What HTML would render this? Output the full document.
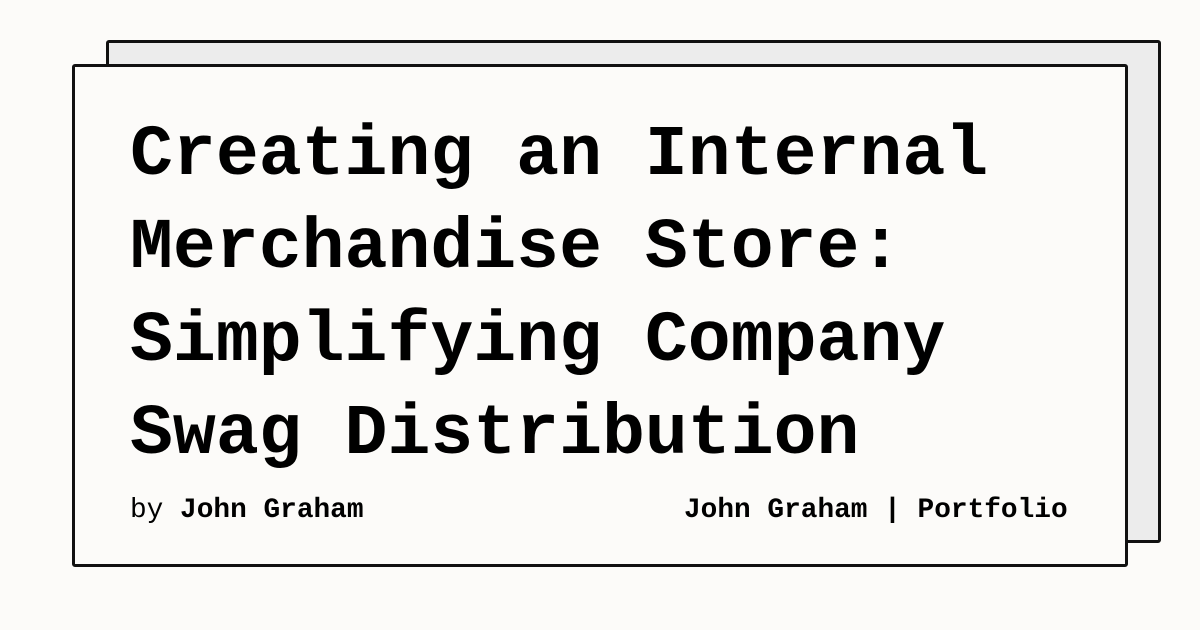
<!DOCTYPE html>
<html><head><meta charset="utf-8"><style>
html,body{margin:0;padding:0;width:1200px;height:630px;background:#fcfbf9;overflow:hidden;position:relative;font-family:"Liberation Mono",monospace;color:#000}
.back{position:absolute;left:106px;top:40px;width:1049px;height:497px;background:#ececec;border:3px solid #111;border-radius:3px}
.front{position:absolute;left:72px;top:64px;width:1050px;height:497px;background:#fcfbf9;border:3px solid #111;border-radius:3px}
.title{position:absolute;left:130px;top:109px;font-size:71.5px;line-height:93px;font-weight:bold;white-space:pre;letter-spacing:0}
.foot{position:absolute;top:497px;font-size:27.8px;line-height:28px;white-space:pre}
b{font-weight:bold}
</style></head><body>
<div class="back"></div>
<div class="front"></div>
<div class="title">Creating an Internal
Merchandise Store:
Simplifying Company
Swag Distribution</div>
<div class="foot" style="left:130px">by <b>John Graham</b></div>
<div class="foot" style="left:684px;font-weight:bold">John Graham | Portfolio</div>
</body></html>
